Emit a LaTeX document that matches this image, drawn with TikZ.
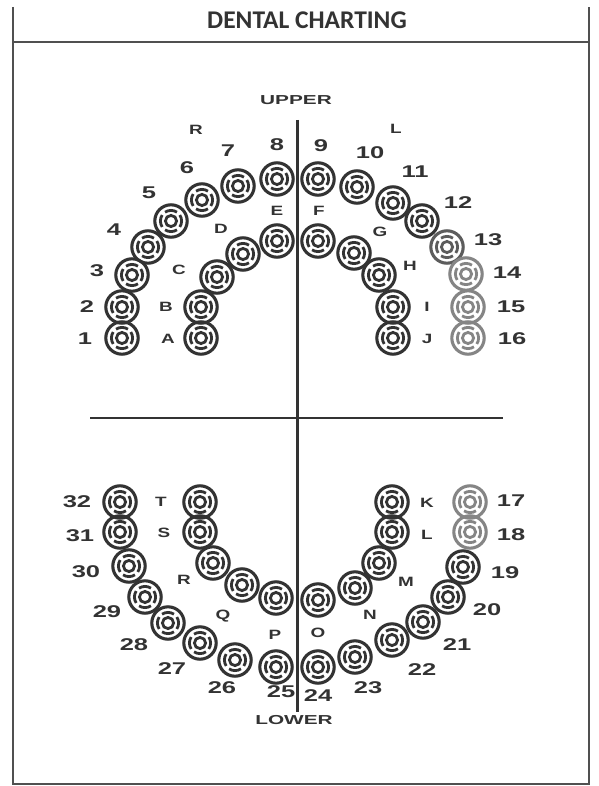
\documentclass[tikz,border=0pt]{standalone}
\usepackage{fontspec}
\newfontfamily\labfont{Liberation Sans}
\newfontfamily\titlefont{Carlito}
\definecolor{ink}{HTML}{333333}
\definecolor{faint}{HTML}{858585}
\definecolor{midgray}{HTML}{5C5C5C}
\definecolor{framec}{HTML}{505050}
\newcommand\Wn[1]{\scalebox{1.5}[1]{#1}}
\newcommand\Wl[1]{\scalebox{1.4}[1]{#1}}
\newcommand\Wu[1]{\scalebox{1.6}[1]{#1}}
\tikzset{
  toothnode/.style={circle, minimum size=32.4pt, inner sep=0pt, draw=#1, line width=3.1pt,
    path picture={
      \draw[#1,line width=2.8pt] (path picture bounding box.center) circle (5.6pt);
      \foreach \a in {0,90,180,270}{
        \draw[#1,line width=2.8pt] ([shift={(\a-34:10.6pt)}]path picture bounding box.center) arc[start angle=\a-34,end angle=\a+34,radius=10.6pt];
      }
    }},
  toothnode/.default=ink,
  numlab/.style={text=ink, inner sep=0pt, font=\labfont\bfseries\fontsize{17}{17}\selectfont},
  letlab/.style={text=ink, inner sep=0pt, font=\labfont\bfseries\fontsize{13.5}{13.5}\selectfont},
  sidelab/.style={text=ink, inner sep=0pt, font=\labfont\bfseries\fontsize{13}{13}\selectfont},
  frameline/.style={draw=framec, line width=2pt},
  axisline/.style={draw=ink, line width=2.2pt}
}
\begin{document}
\begin{tikzpicture}[x=1pt,y=-1pt]
\useasboundingbox (0,0) rectangle (598,786);
\fill[white] (0,0) rectangle (598,786);
% frame
\coordinate (ftl) at (13,7);
\coordinate (ftr) at (589,7);
\coordinate (fbl) at (13,784);
\coordinate (fbr) at (589,784);
\coordinate (hl) at (13,42);
\coordinate (hr) at (589,42);
\draw[frameline] (ftl) -- (fbl) -- (fbr) -- (ftr);
\draw[frameline] (hl) -- (hr);
\node[text=ink, font=\titlefont\bfseries\fontsize{25.5}{25.5}\selectfont, inner sep=0pt] (title) at (307,20) {DENTAL CHARTING};
% axes
\coordinate (vtop) at (297.5,120);
\coordinate (vbot) at (297.5,712);
\coordinate (hleft) at (90,418);
\coordinate (hright) at (503,418);
\draw[axisline] (vtop) -- (vbot);
\draw[axisline] (hleft) -- (hright);
\node[sidelab] (upper) at (296,100) {\Wu{UPPER}};
\node[sidelab] (lower) at (294,720) {\Wu{LOWER}};
\node[letlab] (rside) at (196,130) {\Wl{R}};
\node[letlab] (lside) at (396,129) {\Wl{L}};
% upper outer teeth
\foreach \n/\x/\y/\c in {1/122/338/ink,2/122/307/ink,3/132/275/ink,4/148/247/ink,5/171/221/ink,6/202/200/ink,7/238/186/ink,8/277/179/ink,9/318/179/ink,10/357/187/ink,11/393/203/ink,12/422/221/ink,13/447/247/midgray,14/466/274/faint,15/468/307/faint,16/468/338/faint}
  \node[toothnode=\c] (t\n) at (\x,\y) {};
% upper inner teeth
\foreach \n/\x/\y in {A/201/338,B/201/307,C/217/277,D/243/254,E/277/241,F/318/241,G/354/253,H/379/275,I/393/307,J/393/338}
  \node[toothnode] (p\n) at (\x,\y) {};
% lower outer teeth
\foreach \n/\x/\y/\c in {32/120/502/ink,31/120/532/ink,30/129/566/ink,29/145/597/ink,28/168/623/ink,27/200/643/ink,26/235/660/ink,25/276/667/ink,24/318/667/ink,23/355/657/ink,22/392/640/ink,21/423/622/ink,20/448/597/ink,19/463/567/ink,18/470/532/faint,17/470/502/faint}
  \node[toothnode=\c] (t\n) at (\x,\y) {};
% lower inner teeth
\foreach \n/\x/\y in {T/200/502,S/200/532,R/213/563,Q/242/585,P/276/598,O/318/600,N/355/588,M/379/563,L/392/532,K/392/502}
  \node[toothnode] (p\n) at (\x,\y) {};
% number labels
\foreach \n/\x/\y in {1/85/339,2/87/307,3/97/271,4/114/230,5/149/193,6/187/168,7/228/151,8/277/145,9/321/146,10/370/153,11/415/172,12/458/203,13/488/240,14/507/273,15/511/307,16/512/339,32/77/502,31/80/536,30/86/572,29/107/612,28/134/645,27/172/669,26/222/688,25/281/692,24/318/696,23/368/688,22/422/670,21/457/645,20/487/610,19/505/573,18/511/535,17/511/501}
  \node[numlab] (n\n) at (\x,\y) {\Wn{\n}};
% letter labels
\foreach \n/\x/\y in {A/168/339,B/166/307,C/179/270,D/221/229,E/277/211,F/319/211,G/380/232,H/410/266,I/427/307,J/427/339,T/161/502,S/164/533,R/184/580,Q/223/616,P/275/635,O/318/633,N/370/615,M/406/582,L/427/535,K/427/503}
  \node[letlab] (l\n) at (\x,\y) {\Wl{\n}};
\end{tikzpicture}
\end{document}
